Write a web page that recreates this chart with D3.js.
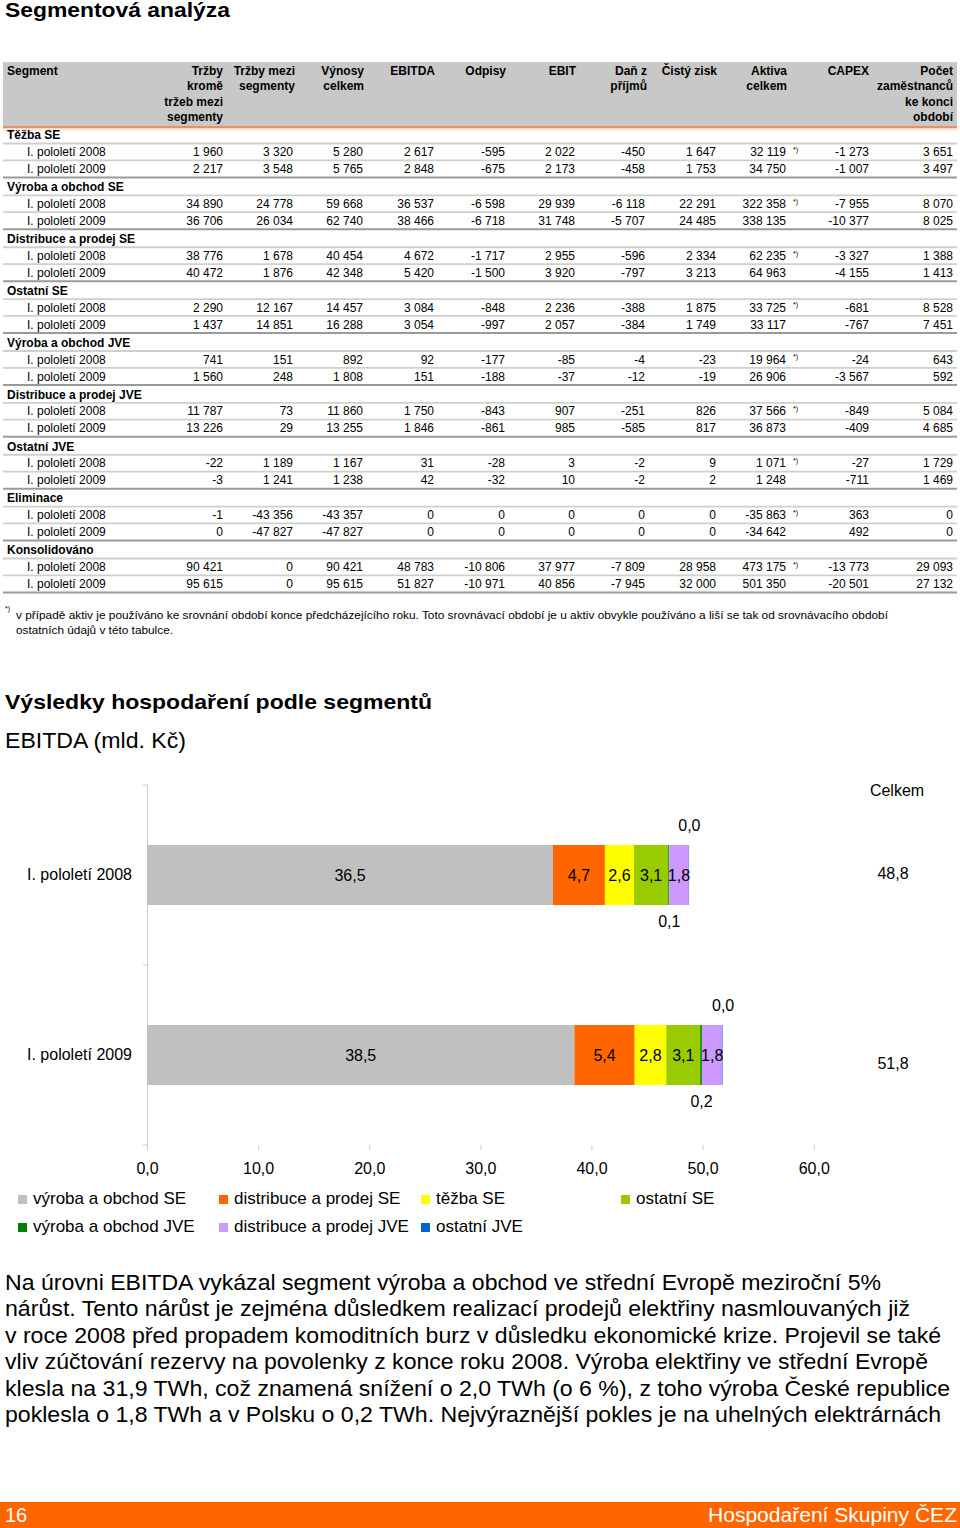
<!DOCTYPE html>
<html><head><meta charset="utf-8">
<script src="https://cdn.jsdelivr.net/npm/d3@7"></script>
<style>
body{margin:0;background:#fff}
svg{display:block}
text{font-family:"Liberation Sans",Arial,Helvetica,sans-serif;fill:#000}
</style>
</head><body>
<svg id="c" width="960" height="1528"></svg>
<script>
// ---------------- DATA ----------------
const tableHeaders = [
  ["Tržby","kromě","tržeb mezi","segmenty"],
  ["Tržby mezi","segmenty"],
  ["Výnosy","celkem"],
  ["EBITDA"],
  ["Odpisy"],
  ["EBIT"],
  ["Daň z","příjmů"],
  ["Čistý zisk"],
  ["Aktiva","celkem"],
  ["CAPEX"],
  ["Počet","zaměstnanců","ke konci","období"]
];
const periods = ["I. pololetí 2008","I. pololetí 2009"];
const segmentNames = ["Těžba SE","Výroba a obchod SE","Distribuce a prodej SE","Ostatní SE",
  "Výroba a obchod JVE","Distribuce a prodej JVE","Ostatní JVE","Eliminace","Konsolidováno"];

const tezbaSE = [
  [1960, 3320, 5280, 2617, -595, 2022, -450, 1647, 32119, -1273, 3651],
  [2217, 3548, 5765, 2848, -675, 2173, -458, 1753, 34750, -1007, 3497]];
const vyrobaObchodSE = [
  [34890, 24778, 59668, 36537, -6598, 29939, -6118, 22291, 322358, -7955, 8070],
  [36706, 26034, 62740, 38466, -6718, 31748, -5707, 24485, 338135, -10377, 8025]];
const distribuceProdejSE = [
  [38776, 1678, 40454, 4672, -1717, 2955, -596, 2334, 62235, -3327, 1388],
  [40472, 1876, 42348, 5420, -1500, 3920, -797, 3213, 64963, -4155, 1413]];
const ostatniSE = [
  [2290, 12167, 14457, 3084, -848, 2236, -388, 1875, 33725, -681, 8528],
  [1437, 14851, 16288, 3054, -997, 2057, -384, 1749, 33117, -767, 7451]];
const vyrobaObchodJVE = [
  [741, 151, 892, 92, -177, -85, -4, -23, 19964, -24, 643],
  [1560, 248, 1808, 151, -188, -37, -12, -19, 26906, -3567, 592]];
const distribuceProdejJVE = [
  [11787, 73, 11860, 1750, -843, 907, -251, 826, 37566, -849, 5084],
  [13226, 29, 13255, 1846, -861, 985, -585, 817, 36873, -409, 4685]];
const ostatniJVE = [
  [-22, 1189, 1167, 31, -28, 3, -2, 9, 1071, -27, 1729],
  [-3, 1241, 1238, 42, -32, 10, -2, 2, 1248, -711, 1469]];
const eliminace = [
  [-1, -43356, -43357, 0, 0, 0, 0, 0, -35863, 363, 0],
  [0, -47827, -47827, 0, 0, 0, 0, 0, -34642, 492, 0]];
const konsolidovano = [
  [90421, 0, 90421, 48783, -10806, 37977, -7809, 28958, 473175, -13773, 29093],
  [95615, 0, 95615, 51827, -10971, 40856, -7945, 32000, 501350, -20501, 27132]];
const tableData = [tezbaSE, vyrobaObchodSE, distribuceProdejSE, ostatniSE,
  vyrobaObchodJVE, distribuceProdejJVE, ostatniJVE, eliminace, konsolidovano];

const footnoteLines = [
  "v případě aktiv je používáno ke srovnání období konce předcházejícího roku. Toto srovnávací období je u aktiv obvykle používáno a liší se tak od srovnávacího období",
  "ostatních údajů v této tabulce."];

const chartSeries = ["výroba a obchod SE","distribuce a prodej SE","těžba SE","ostatní SE",
  "výroba a obchod JVE","distribuce a prodej JVE","ostatní JVE"];
const chartColors = ["#c0c0c0","#ff6600","#ffff00","#99cc00","#008000","#cc99ff","#0066cc"];
const ebitda2008 = [36.537, 4.672, 2.617, 3.084, 0.092, 1.750, 0.031];
const ebitda2009 = [38.466, 5.420, 2.848, 3.054, 0.151, 1.846, 0.042];
const ebitdaTotals = [48.783, 51.827];
const xTicks = [0, 10, 20, 30, 40, 50, 60];

const paragraphLines = [
  "Na úrovni EBITDA vykázal segment výroba a obchod ve střední Evropě meziroční 5%",
  "nárůst. Tento nárůst je zejména důsledkem realizací prodejů elektřiny nasmlouvaných již",
  "v roce 2008 před propadem komoditních burz v důsledku ekonomické krize. Projevil se také",
  "vliv zúčtování rezervy na povolenky z konce roku 2008. Výroba elektřiny ve střední Evropě",
  "klesla na 31,9 TWh, což znamená snížení o 2,0 TWh (o 6 %), z toho výroba České republice",
  "poklesla o 1,8 TWh a v Polsku o 0,2 TWh. Nejvýraznější pokles je na uhelných elektrárnách"];

// ---------------- DRAW ----------------
const svg = d3.select("#c");
function fit(sel, w){ sel.attr("textLength", w).attr("lengthAdjust","spacingAndGlyphs"); return sel; }
function fmtInt(v){ const s = d3.format(",")(Math.abs(v)).replace(/,/g, " "); return (v < 0 ? "-" : "") + s; }
const loc = d3.formatLocale({decimal: ",", thousands: " ", grouping: [3], currency: ["", ""], minus: "-"});
const fmt1 = loc.format(".1f");

// Title
fit(svg.append("text").attr("x", 5).attr("y", 17).attr("font-size", 20).attr("font-weight", "bold")
  .text("Segmentová analýza"), 225);

// Table
const colRight = [223, 293, 363, 434, 505, 575, 645, 716, 786, 869, 953];
const headRight = [223, 295, 364, 435, 506, 576, 647, 717, 787, 869, 953];
const tbl = svg.append("g");
tbl.append("rect").attr("x", 3).attr("y", 62).attr("width", 954).attr("height", 64).attr("fill", "#c8c8c8");
tbl.append("rect").attr("x", 3).attr("y", 126).attr("width", 954).attr("height", 2.5).attr("fill", "#e0946c");
tbl.append("rect").attr("x", 3).attr("y", 128.5).attr("width", 954).attr("height", 2).attr("fill", "#fae6da");
tbl.append("text").attr("x", 7).attr("y", 75).attr("font-size", 12).attr("font-weight", "bold").text("Segment");
tableHeaders.forEach((lines, j) => {
  lines.forEach((l, k) => {
    tbl.append("text").attr("x", headRight[j]).attr("y", 75 + k * 15.4).attr("text-anchor", "end")
      .attr("font-size", 12).attr("font-weight", "bold").text(l);
  });
});
const g0 = 135, gStep = 51.875;
tableData.forEach((rows, i) => {
  const G = g0 + i * gStep;
  tbl.append("text").attr("x", 7).attr("y", G + 4.3).attr("font-size", 12).attr("font-weight", "bold").text(segmentNames[i]);
  tbl.append("line").attr("x1", 3).attr("x2", 957).attr("y1", G + 8.5).attr("y2", G + 8.5).attr("stroke", "#cfcfcf").attr("stroke-width", 1.8);
  tbl.append("line").attr("x1", 3).attr("x2", 957).attr("y1", G + 25.3).attr("y2", G + 25.3).attr("stroke", "#cfcfcf").attr("stroke-width", 1.8);
  tbl.append("line").attr("x1", 3).attr("x2", 957).attr("y1", G + 42.4).attr("y2", G + 42.4).attr("stroke", "#9a9a9a").attr("stroke-width", 2);
  rows.forEach((vals, r) => {
    const cy = G + 16.8 + r * 17;
    tbl.append("text").attr("x", 27).attr("y", cy + 4.3).attr("font-size", 12).text(periods[r]);
    vals.forEach((v, j) => {
      tbl.append("text").attr("x", colRight[j]).attr("y", cy + 4.3).attr("text-anchor", "end")
        .attr("font-size", 12).text(fmtInt(v));
    });
    if (r === 0) {
      tbl.append("text").attr("x", 793).attr("y", cy).attr("font-size", 7).text("*)");
    }
  });
});

// Footnote
svg.append("text").attr("x", 5).attr("y", 611).attr("font-size", 7).text("*)");
fit(svg.append("text").attr("x", 16).attr("y", 619).attr("font-size", 11).text(footnoteLines[0]), 872);
fit(svg.append("text").attr("x", 16).attr("y", 634).attr("font-size", 11).text(footnoteLines[1]), 157);

// Section headings
fit(svg.append("text").attr("x", 5).attr("y", 709).attr("font-size", 21).attr("font-weight", "bold")
  .text("Výsledky hospodaření podle segmentů"), 427);
fit(svg.append("text").attr("x", 5).attr("y", 748).attr("font-size", 22).text("EBITDA (mld. Kč)"), 181);

// Chart
const x = d3.scaleLinear().domain([0, 60]).range([147, 813.7]);
const y = d3.scaleBand().domain(periods).range([785, 1145]).paddingInner(2 / 3).paddingOuter(1 / 3);
const chart = svg.append("g");
const rowsObj = periods.map((p, i) => {
  const o = {period: p};
  const arr = i === 0 ? ebitda2008 : ebitda2009;
  chartSeries.forEach((k, j) => o[k] = arr[j]);
  return o;
});
const stacked = d3.stack().keys(chartSeries)(rowsObj);

// axes
chart.append("line").attr("x1", 147.5).attr("x2", 147.5).attr("y1", 785).attr("y2", 1145)
  .attr("stroke", "#cccccc").attr("stroke-width", 1);
[0, 1, 2].forEach(i => {
  const yy = 785 + i * y.step();
  chart.append("line").attr("x1", 143).attr("x2", 147.5).attr("y1", yy).attr("y2", yy)
    .attr("stroke", "#cccccc").attr("stroke-width", 1);
});
const xAxis = chart.append("g").attr("transform", "translate(0,1145)")
  .call(d3.axisBottom(x).tickValues(xTicks).tickFormat(fmt1).tickSize(5).tickPadding(13));
xAxis.select(".domain").remove();
xAxis.selectAll(".tick line").attr("stroke", "#cccccc");
xAxis.selectAll(".tick text").attr("font-size", 16).attr("fill", "#000")
  .style("font-family", '"Liberation Sans",Arial,sans-serif');

// bars
stacked.forEach((s, j) => {
  chart.append("g").attr("fill", chartColors[j]).selectAll("rect").data(s).join("rect")
    .attr("x", d => x(d[0])).attr("width", d => x(d[1]) - x(d[0]))
    .attr("y", d => y(d.data.period)).attr("height", y.bandwidth());
});
// segment labels
stacked.forEach((s, j) => {
  s.forEach(d => {
    const cx = (x(d[0]) + x(d[1])) / 2;
    const top = y(d.data.period), bot = top + y.bandwidth(), mid = top + y.bandwidth() / 2;
    let ly = mid;
    if (j === 6) ly = top - 19.5;
    else if (j === 4) ly = bot + 16;
    chart.append("text").attr("x", cx + (j === 4 || j === 6 ? 0.5 : 0)).attr("y", ly).attr("dy", "0.35em")
      .attr("text-anchor", "middle").attr("font-size", 16).text(fmt1(d[1] - d[0]));
  });
});
// category labels
periods.forEach(p => {
  chart.append("text").attr("x", 132).attr("y", y(p) + y.bandwidth() / 2 - 1).attr("dy", "0.35em")
    .attr("text-anchor", "end").attr("font-size", 16).text(p);
});
// totals
chart.append("text").attr("x", 897).attr("y", 790).attr("dy", "0.35em").attr("text-anchor", "middle")
  .attr("font-size", 16).text("Celkem");
const totalDy = [-2, 8];
periods.forEach((p, i) => {
  chart.append("text").attr("x", 893).attr("y", y(p) + y.bandwidth() / 2 + totalDy[i]).attr("dy", "0.35em")
    .attr("text-anchor", "middle").attr("font-size", 16).text(fmt1(ebitdaTotals[i]));
});

// legend
const legX = [18, 219, 421, 621];
const legY = [1198, 1226];
chartSeries.forEach((k, j) => {
  const row = j < 4 ? 0 : 1, col = j < 4 ? j : j - 4;
  const lx = legX[col], ly = legY[row];
  chart.append("rect").attr("x", lx).attr("y", ly - 3).attr("width", 9).attr("height", 9).attr("fill", chartColors[j]);
  chart.append("text").attr("x", lx + 15).attr("y", ly).attr("dy", "0.35em").attr("font-size", 17).text(k);
});

// paragraph
const paraW = [876, 905, 936, 923, 945, 936];
paragraphLines.forEach((l, i) => {
  fit(svg.append("text").attr("x", 5).attr("y", 1290 + i * 26.4).attr("font-size", 22).text(l), paraW[i]);
});

// footer
svg.append("rect").attr("x", 0).attr("y", 1502).attr("width", 960).attr("height", 26).attr("fill", "#ff6600");
svg.append("text").attr("x", 5).attr("y", 1522).attr("font-size", 20).style("fill", "#fff").text("16");
fit(svg.append("text").attr("x", 957).attr("y", 1522).attr("font-size", 20).attr("text-anchor", "end")
  .style("fill", "#fff").text("Hospodaření Skupiny ČEZ"), 249);
</script>
</body></html>
